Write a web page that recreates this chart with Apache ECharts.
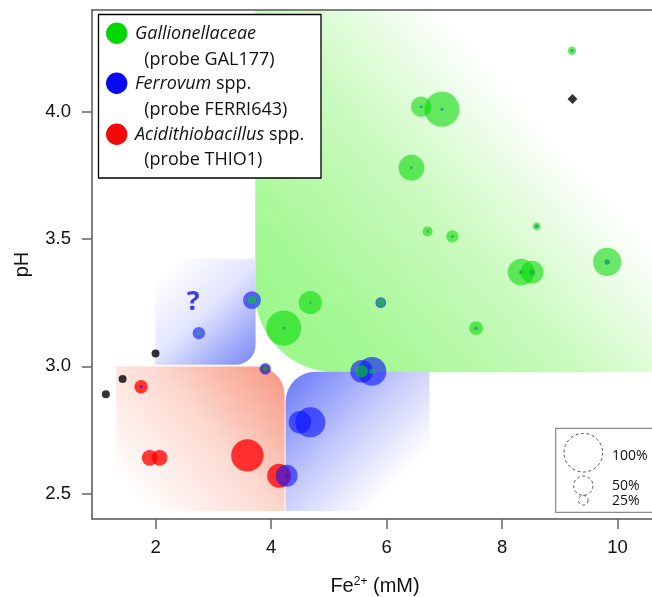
<!DOCTYPE html>
<html><head><meta charset="utf-8">
<script src="https://cdn.jsdelivr.net/npm/echarts@6/dist/echarts.min.js"></script>
<style>html,body{margin:0;padding:0;background:#fff}#c{width:652px;height:597px}</style>
</head><body><div id="c"></div>
<script>
// ---- data ----
const fe    = [9.21, 6.60, 6.96, 6.43, 6.71, 7.14, 8.60, 8.33, 8.52, 9.82, 7.55, 4.22, 4.68, 2.75, 3.67, 5.90, 3.90, 5.57, 5.75, 4.50, 4.68, 4.27, 1.75, 1.90, 2.07, 3.59, 4.14];
const ph    = [4.24, 4.02, 4.01, 3.78, 3.53, 3.51, 3.55, 3.37, 3.37, 3.41, 3.15, 3.15, 3.25, 3.13, 3.26, 3.25, 2.99, 2.98, 2.98, 2.78, 2.78, 2.57, 2.92, 2.64, 2.64, 2.65, 2.57];
const gal   = [22, 53, 91, 67, 26, 32, 20, 69, 59, 73, 36, 91, 60, 10, 21, 21, 15, 32, 14, 0, 0, 0, 0, 0, 0, 0, 0];
const ferri = [9, 8, 8, 7, 5, 7, 9, 10, 15, 14, 9, 7, 5, 32, 46, 28, 30, 59, 74, 58, 78, 57, 8, 0, 0, 0, 0];
const thio  = [0, 0, 0, 0, 0, 0, 0, 0, 0, 0, 0, 0, 0, 0, 0, 0, 21, 0, 0, 5, 5, 10, 35, 41, 41, 84, 62];
const noSignalFe = [2.00, 1.43, 1.14];
const noSignalPh = [3.05, 2.95, 2.89];
const diamondFe = [9.22];
const diamondPh = [4.05];
const questionFe = [2.65];
const questionPh = [3.25];
const regionFe0 = [3.727, 1.995, 1.319, 4.251];
const regionFe1 = [10.7, 3.732, 4.234, 6.745];
const regionPh0 = [2.977, 3.006, 2.431, 2.431];
const regionPh1 = [4.4, 3.423, 2.999, 2.979];
const xTicks = [2, 4, 6, 8, 10];
const yTicks = [2.5, 3.0, 3.5, 4.0];
const sizeLegendPct = [100, 50, 25];
const sizeLegendLabels = ['100%', '50%', '25%'];

// ---- styles ----
const R100 = 19.3; // px radius of a 100% bubble
const sz = v => 2 * R100 * v[2] / 100;
const AX = 'Liberation Sans, Arial, sans-serif';
const LG = 'Open Sans, Noto Sans, sans-serif';
const G = echarts.graphic.LinearGradient;
const regionFills = [
  () => new G(0, 1, 1, 0, [{offset: 0, color: '#98f686'}, {offset: 0.18, color: '#a4f894'}, {offset: 0.45, color: '#cbfabf'}, {offset: 0.7, color: '#ffffff'}, {offset: 1, color: '#ffffff'}]),
  () => new G(0, 0, 1, 1, [{offset: 0.1, color: '#ffffff'}, {offset: 0.5, color: '#e2e5fe'}, {offset: 1, color: '#7585f6'}]),
  () => new G(0, 1, 1, 0, [{offset: 0.1, color: '#ffffff'}, {offset: 0.55, color: '#fcd9d0'}, {offset: 1, color: '#f8957f'}]),
  () => new G(0, 0, 1, 1, [{offset: 0, color: '#6676f8'}, {offset: 0.45, color: '#c8cdfc'}, {offset: 0.78, color: '#ffffff'}])
];
const regionCorners = [[0, 0, 0, 80], [30, 0, 20, 0], [0, 28, 0, 60], [30, 0, 65, 0]];

const pts = arr => fe.map((x, i) => [x, ph[i], arr[i]]).filter(d => d[2] > 0);

const chart = echarts.init(document.getElementById('c'), null, {renderer: 'canvas'});
const axisCommon = {
  type: 'value', splitLine: {show: false},
  axisLine: {show: true, onZero: false, lineStyle: {color: '#555', width: 1.5}},
  z: 10
};
chart.setOption({
  animation: false,
  backgroundColor: '#fff',
  textStyle: {fontFamily: AX},
  grid: {left: 92, top: 10, width: 566, height: 509, show: false, containLabel: false, outerBoundsMode: 'none'},
  xAxis: [
    Object.assign({}, axisCommon, {
      position: 'bottom', min: 0.9, max: 10.7,
      axisTick: {show: true, customValues: xTicks, length: 10, lineStyle: {color: '#666', width: 1.5}},
      axisLabel: {show: true, customValues: xTicks, margin: 19, fontSize: 18.5, color: '#111', fontFamily: AX},
      name: 'Fe{sup|2+} (mM)', nameLocation: 'middle', nameGap: 57,
      nameTextStyle: {fontSize: 20, color: '#111', fontFamily: AX, rich: {sup: {fontSize: 12, verticalAlign: 'top', fontFamily: AX, color: '#111'}}}
    }),
    Object.assign({}, axisCommon, {
      position: 'top', min: 0.9, max: 10.7,
      axisTick: {show: false}, axisLabel: {show: false}
    })
  ],
  yAxis: [
    Object.assign({}, axisCommon, {
      position: 'left', min: 2.4, max: 4.4,
      axisTick: {show: true, customValues: yTicks, length: 10, lineStyle: {color: '#666', width: 1.5}},
      axisLabel: {show: true, customValues: yTicks, margin: 21, fontSize: 18.5, color: '#111', fontFamily: AX, formatter: v => v.toFixed(1)},
      name: 'pH', nameLocation: 'middle', nameGap: 60,
      nameTextStyle: {fontSize: 20, color: '#111', fontFamily: AX}
    })
  ],
  series: [
    {
      type: 'custom', name: 'regions', clip: true, z: 1, silent: true,
      data: regionFe0.map((x, i) => [x, regionFe1[i], regionPh0[i], regionPh1[i], i]),
      encode: {x: [0, 1], y: [2, 3]},
      renderItem: function (params, api) {
        const i = api.value(4);
        const tl = api.coord([api.value(0), api.value(3)]);
        const br = api.coord([api.value(1), api.value(2)]);
        return {type: 'rect', shape: {x: tl[0], y: tl[1], width: br[0] - tl[0], height: br[1] - tl[1], r: regionCorners[i]}, style: {fill: regionFills[i]()}};
      }
    },
    {type: 'scatter', name: 'Acidithiobacillus spp.', z: 3, data: pts(thio), symbolSize: sz, itemStyle: {color: 'rgba(255,0,0,0.96)'}},
    {type: 'scatter', name: 'Ferrovum spp.', z: 4, data: pts(ferri), symbolSize: sz, itemStyle: {color: 'rgba(10,20,255,0.76)'}},
    {type: 'scatter', name: 'Gallionellaceae', z: 5, data: pts(gal), symbolSize: sz, itemStyle: {color: 'rgba(0,215,0,0.7)'}},
    {type: 'scatter', name: 'no signal', z: 6, data: noSignalFe.map((x, i) => [x, noSignalPh[i]]), symbolSize: 8, itemStyle: {color: '#000'}},
    {type: 'scatter', name: 'diamond', z: 6, data: diamondFe.map((x, i) => [x, diamondPh[i]]), symbol: 'diamond', symbolSize: 10, itemStyle: {color: '#000'}},
    {type: 'scatter', name: 'question', z: 6, data: questionFe.map((x, i) => [x, questionPh[i]]), symbolSize: 1,
      itemStyle: {color: 'rgba(0,0,0,0)'},
      label: {show: true, position: 'inside', formatter: '?', fontSize: 27, fontWeight: 'bold', color: '#0f0fe6', fontFamily: LG}}
  ],
  graphic: [
    // taxon legend
    {type: 'rect', z: 20, shape: {x: 98.5, y: 14.5, width: 222.5, height: 163.5}, style: {fill: '#fff', stroke: '#000', lineWidth: 1.3}},
    {type: 'circle', z: 21, shape: {cx: 116.7, cy: 33.3, r: 10.7}, style: {fill: '#00d800'}},
    {type: 'circle', z: 21, shape: {cx: 116.7, cy: 83.3, r: 10.7}, style: {fill: '#0a0af2'}},
    {type: 'circle', z: 21, shape: {cx: 116.7, cy: 134.3, r: 10.7}, style: {fill: '#f20a0a'}},
    {type: 'text', z: 21, x: 135, y: 33.5, style: {text: '{i|Gallionellaceae}', fontSize: 18, fontFamily: LG, fill: '#111', verticalAlign: 'middle', rich: {i: {fontStyle: 'italic', fontSize: 18, fontFamily: LG, fill: '#111'}}}},
    {type: 'text', z: 21, x: 144.3, y: 60, style: {text: '(probe GAL177)', fontSize: 18, fontFamily: LG, fill: '#111', verticalAlign: 'middle'}},
    {type: 'text', z: 21, x: 135, y: 84, style: {text: '{i|Ferrovum} spp.', fontSize: 18, fontFamily: LG, fill: '#111', verticalAlign: 'middle', rich: {i: {fontStyle: 'italic', fontSize: 18, fontFamily: LG, fill: '#111'}}}},
    {type: 'text', z: 21, x: 144.3, y: 110, style: {text: '(probe FERRI643)', fontSize: 18, fontFamily: LG, fill: '#111', verticalAlign: 'middle'}},
    {type: 'text', z: 21, x: 135, y: 134.5, style: {text: '{i|Acidithiobacillus} spp.', fontSize: 18, fontFamily: LG, fill: '#111', verticalAlign: 'middle', rich: {i: {fontStyle: 'italic', fontSize: 18, fontFamily: LG, fill: '#111'}}}},
    {type: 'text', z: 21, x: 144.3, y: 160, style: {text: '(probe THIO1)', fontSize: 18, fontFamily: LG, fill: '#111', verticalAlign: 'middle'}},
    // size legend
    {type: 'rect', z: 20, shape: {x: 555.7, y: 428.3, width: 110, height: 84}, style: {fill: '#fff', stroke: '#888', lineWidth: 1.2}},
    ...sizeLegendPct.map((p, i) => {
      const r = R100 * p / 100;
      const cy = [452.7, 485.7, 500.3][i];
      return {type: 'circle', z: 21, shape: {cx: 583.3, cy: cy, r: r}, style: {fill: 'none', stroke: '#555', lineWidth: 1, lineDash: [3, 2.5]}};
    }),
    ...sizeLegendLabels.map((t, i) => ({type: 'text', z: 21, x: 612, y: [456, 486.5, 501.5][i], style: {text: t, fontSize: 14, fontFamily: LG, fill: '#111', verticalAlign: 'middle'}}))
  ]
});
</script></body></html>
